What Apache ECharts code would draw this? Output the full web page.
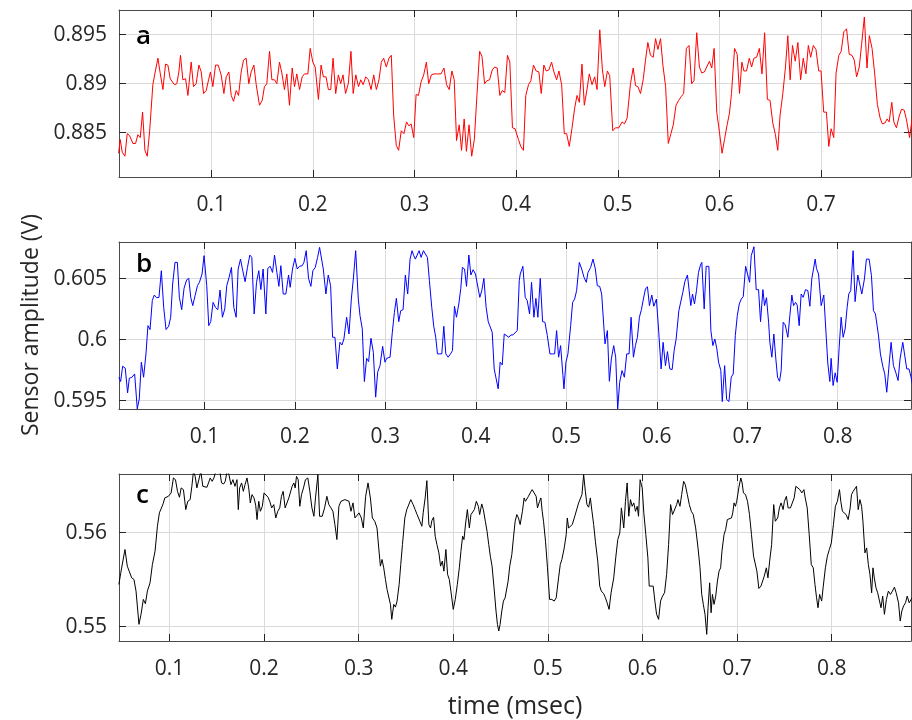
<!DOCTYPE html>
<html>
<head>
<meta charset="utf-8">
<title>Sensor amplitude</title>
<script src="https://cdn.jsdelivr.net/npm/echarts@6/dist/echarts.min.js"></script>
<style>
  html, body { margin: 0; padding: 0; background: #fff; }
  #chart { width: 912px; height: 720px; }
</style>
</head>
<body>
<div id="chart"></div>
<script>
// [time (msec), amplitude (V)]
const sensorA = [
  [0.0089,0.8829],[0.0105,0.8843],[0.0125,0.8830],[0.0151,0.8826],[0.0174,0.8849],[0.0197,0.8847],[0.0230,0.8839],[0.0256,0.8839],[0.0279,0.8848],[0.0302,0.8845],
  [0.0325,0.8871],[0.0348,0.8832],[0.0371,0.8826],[0.0394,0.8851],[0.0426,0.8899],[0.0453,0.8914],[0.0476,0.8926],[0.0498,0.8911],[0.0525,0.8894],[0.0551,0.8920],
  [0.0574,0.8919],[0.0597,0.8905],[0.0616,0.8907],[0.0639,0.8899],[0.0662,0.8900],[0.0682,0.8912],[0.0698,0.8929],[0.0721,0.8904],[0.0748,0.8905],[0.0771,0.8888],
  [0.0803,0.8922],[0.0826,0.8897],[0.0852,0.8900],[0.0879,0.8919],[0.0902,0.8912],[0.0925,0.8890],[0.0951,0.8893],[0.0974,0.8904],[0.0993,0.8912],[0.1016,0.8897],
  [0.1043,0.8919],[0.1069,0.8919],[0.1098,0.8909],[0.1125,0.8890],[0.1148,0.8907],[0.1174,0.8912],[0.1197,0.8888],[0.1220,0.8882],[0.1246,0.8893],[0.1269,0.8888],
  [0.1295,0.8912],[0.1318,0.8924],[0.1344,0.8926],[0.1370,0.8900],[0.1393,0.8912],[0.1420,0.8919],[0.1443,0.8899],[0.1475,0.8878],[0.1502,0.8883],[0.1524,0.8897],
  [0.1547,0.8900],[0.1574,0.8933],[0.1597,0.8904],[0.1623,0.8904],[0.1646,0.8900],[0.1672,0.8922],[0.1695,0.8911],[0.1721,0.8894],[0.1744,0.8910],[0.1770,0.8878],
  [0.1797,0.8916],[0.1820,0.8897],[0.1842,0.8910],[0.1869,0.8894],[0.1895,0.8907],[0.1918,0.8910],[0.1951,0.8910],[0.1974,0.8936],[0.2000,0.8922],
  [0.2023,0.8917],[0.2055,0.8884],[0.2081,0.8919],[0.2104,0.8907],[0.2130,0.8907],[0.2153,0.8894],[0.2176,0.8894],[0.2199,0.8926],[0.2225,0.8890],[0.2251,0.8909],
  [0.2274,0.8900],[0.2297,0.8909],[0.2322,0.8890],[0.2349,0.8900],[0.2375,0.8933],[0.2397,0.8890],[0.2423,0.8909],[0.2449,0.8897],[0.2472,0.8904],[0.2495,0.8899],
  [0.2521,0.8907],[0.2547,0.8904],[0.2573,0.8894],[0.2599,0.8909],[0.2625,0.8894],[0.2651,0.8904],[0.2674,0.8922],[0.2697,0.8926],[0.2723,0.8917],[0.2749,0.8926],
  [0.2772,0.8929],[0.2795,0.8868],[0.2821,0.8837],[0.2844,0.8832],[0.2870,0.8852],[0.2896,0.8849],[0.2922,0.8861],[0.2945,0.8857],[0.2967,0.8859],[0.2993,0.8845],
  [0.3016,0.8889],[0.3039,0.8888],[0.3065,0.8902],[0.3091,0.8909],[0.3117,0.8922],[0.3140,0.8900],[0.3166,0.8909],[0.3192,0.8910],[0.3225,0.8910],[0.3261,0.8910],
  [0.3290,0.8916],[0.3316,0.8899],[0.3342,0.8894],[0.3368,0.8913],[0.3391,0.8904],[0.3414,0.8842],[0.3440,0.8858],[0.3463,0.8832],[0.3489,0.8864],[0.3511,0.8831],
  [0.3537,0.8858],[0.3563,0.8826],[0.3589,0.8843],[0.3615,0.8889],[0.3641,0.8933],[0.3664,0.8928],[0.3690,0.8900],[0.3713,0.8903],[0.3739,0.8904],[0.3765,0.8914],
  [0.3788,0.8917],[0.3814,0.8916],[0.3840,0.8888],[0.3863,0.8893],[0.3889,0.8891],[0.3915,0.8929],[0.3938,0.8922],[0.3964,0.8855],[0.3990,0.8854],
  [0.4023,0.8843],[0.4046,0.8836],[0.4072,0.8832],[0.4095,0.8888],[0.4122,0.8899],[0.4145,0.8903],[0.4171,0.8919],[0.4197,0.8913],[0.4224,0.8912],[0.4247,0.8890],
  [0.4273,0.8919],[0.4296,0.8913],[0.4322,0.8914],[0.4349,0.8922],[0.4372,0.8912],[0.4398,0.8904],[0.4421,0.8913],[0.4448,0.8899],[0.4474,0.8849],[0.4497,0.8849],
  [0.4523,0.8836],[0.4549,0.8854],[0.4576,0.8875],[0.4599,0.8888],[0.4622,0.8881],[0.4648,0.8920],[0.4671,0.8878],[0.4697,0.8894],[0.4720,0.8910],[0.4747,0.8899],
  [0.4773,0.8907],[0.4796,0.8894],[0.4823,0.8955],[0.4849,0.8914],[0.4872,0.8897],[0.4898,0.8913],[0.4921,0.8908],[0.4951,0.8852],[0.4977,0.8855],[0.5010,0.8855],
  [0.5043,0.8861],[0.5066,0.8859],[0.5092,0.8865],[0.5125,0.8900],[0.5152,0.8916],[0.5175,0.8898],[0.5198,0.8897],[0.5224,0.8890],[0.5250,0.8904],[0.5273,0.8924],
  [0.5296,0.8942],[0.5322,0.8929],[0.5349,0.8927],[0.5372,0.8946],[0.5395,0.8935],[0.5421,0.8946],[0.5444,0.8919],[0.5471,0.8897],[0.5497,0.8839],[0.5523,0.8849],
  [0.5546,0.8858],[0.5573,0.8878],[0.5599,0.8883],[0.5625,0.8887],[0.5648,0.8890],[0.5675,0.8936],[0.5701,0.8939],[0.5727,0.8900],[0.5750,0.8903],[0.5777,0.8952],
  [0.5803,0.8917],[0.5826,0.8911],[0.5852,0.8912],[0.5875,0.8917],[0.5902,0.8923],[0.5925,0.8916],[0.5948,0.8936],[0.5974,0.8871],
  [0.6000,0.8851],[0.6026,0.8829],[0.6050,0.8843],[0.6076,0.8858],[0.6099,0.8870],[0.6119,0.8890],[0.6149,0.8936],[0.6175,0.8930],[0.6198,0.8890],[0.6221,0.8922],
  [0.6241,0.8913],[0.6267,0.8913],[0.6294,0.8926],[0.6317,0.8917],[0.6340,0.8926],[0.6366,0.8927],[0.6393,0.8936],[0.6419,0.8910],[0.6445,0.8952],[0.6472,0.8884],
  [0.6498,0.8883],[0.6525,0.8860],[0.6551,0.8848],[0.6574,0.8832],[0.6597,0.8868],[0.6624,0.8890],[0.6650,0.8917],[0.6673,0.8949],[0.6696,0.8904],[0.6719,0.8939],
  [0.6746,0.8923],[0.6772,0.8942],[0.6799,0.8904],[0.6825,0.8926],[0.6851,0.8910],[0.6875,0.8939],[0.6898,0.8927],[0.6924,0.8939],[0.6950,0.8935],[0.6977,0.8913],
  [0.7000,0.8913],[0.7026,0.8871],[0.7053,0.8871],[0.7076,0.8836],[0.7099,0.8854],[0.7125,0.8845],[0.7148,0.8911],[0.7175,0.8929],[0.7198,0.8933],[0.7224,0.8953],
  [0.7251,0.8956],[0.7277,0.8930],[0.7304,0.8929],[0.7327,0.8924],[0.7350,0.8907],[0.7376,0.8917],[0.7399,0.8940],[0.7426,0.8968],[0.7452,0.8916],[0.7475,0.8949],
  [0.7502,0.8936],[0.7528,0.8910],[0.7554,0.8879],[0.7581,0.8865],[0.7603,0.8859],[0.7630,0.8860],[0.7650,0.8864],[0.7670,0.8861],[0.7696,0.8881],[0.7716,0.8861],
  [0.7742,0.8855],[0.7769,0.8867],[0.7792,0.8874],[0.7818,0.8873],[0.7841,0.8863],[0.7871,0.8845],[0.7898,0.8866]
]

const sensorB = [
  [0.0055,0.59692],[0.0074,0.59657],[0.0096,0.59782],[0.0125,0.59766],[0.0151,0.59564],[0.0170,0.59684],[0.0199,0.59692],[0.0229,0.59719],[0.0258,0.59433],[0.0280,0.59515],
  [0.0303,0.59815],[0.0328,0.59692],[0.0354,0.59883],[0.0376,0.60114],[0.0399,0.60082],[0.0424,0.60319],[0.0446,0.60365],[0.0472,0.60343],[0.0498,0.60346],[0.0524,0.60564],
  [0.0550,0.60264],[0.0576,0.60082],[0.0605,0.60109],[0.0627,0.60183],[0.0649,0.60455],[0.0675,0.60632],[0.0701,0.60632],[0.0723,0.60346],[0.0749,0.60245],[0.0775,0.60420],
  [0.0804,0.60490],[0.0827,0.60501],[0.0849,0.60346],[0.0871,0.60278],[0.0897,0.60360],[0.0923,0.60441],[0.0945,0.60469],[0.0974,0.60537],[0.0996,0.60687],[0.1026,0.60441],
  [0.1048,0.60114],[0.1070,0.60147],[0.1096,0.60305],[0.1122,0.60264],[0.1148,0.60245],[0.1173,0.60406],[0.1199,0.60183],[0.1225,0.60251],[0.1247,0.60441],[0.1273,0.60510],
  [0.1299,0.60591],[0.1325,0.60264],[0.1351,0.60183],[0.1373,0.60578],[0.1399,0.60659],[0.1424,0.60564],[0.1450,0.60474],[0.1476,0.60591],[0.1502,0.60692],[0.1524,0.60673],
  [0.1550,0.60210],[0.1576,0.60469],[0.1601,0.60564],[0.1624,0.60409],[0.1649,0.60578],[0.1679,0.60210],[0.1701,0.60583],[0.1727,0.60600],[0.1753,0.60550],[0.1775,0.60692],
  [0.1801,0.60550],[0.1823,0.60436],[0.1845,0.60605],[0.1871,0.60373],[0.1900,0.60373],[0.1930,0.60529],[0.1948,0.60428],[0.1974,0.60578],[0.2000,0.60665],[0.2026,0.60578],
  [0.2052,0.60600],[0.2081,0.60605],[0.2100,0.60632],[0.2125,0.60728],[0.2151,0.60501],[0.2177,0.60436],[0.2199,0.60564],[0.2225,0.60591],[0.2251,0.60673],[0.2273,0.60755],
  [0.2295,0.60755],[0.2314,0.60578],[0.2343,0.60373],[0.2369,0.60529],[0.2395,0.60441],[0.2417,0.60019],[0.2443,0.60019],[0.2469,0.59760],[0.2498,0.59978],[0.2520,0.59956],
  [0.2542,0.60005],[0.2572,0.60183],[0.2598,0.60046],[0.2624,0.60332],[0.2646,0.60496],[0.2672,0.60728],[0.2701,0.60332],[0.2720,0.60196],[0.2745,0.60087],[0.2768,0.59657],
  [0.2793,0.59847],[0.2815,0.59820],[0.2841,0.60011],[0.2867,0.59896],[0.2893,0.59529],[0.2915,0.59733],[0.2941,0.59787],[0.2970,0.59945],[0.2996,0.59815],[0.3015,0.59847],
  [0.3052,0.59856],[0.3077,0.60060],[0.3100,0.60223],[0.3122,0.60338],[0.3148,0.60147],[0.3170,0.60237],[0.3196,0.60245],[0.3221,0.60529],[0.3247,0.60373],[0.3273,0.60659],
  [0.3295,0.60728],[0.3314,0.60687],[0.3332,0.60659],[0.3351,0.60659],[0.3373,0.60728],[0.3395,0.60673],[0.3421,0.60728],[0.3443,0.60728],[0.3465,0.60673],[0.3487,0.60482],
  [0.3513,0.60264],[0.3535,0.60109],[0.3557,0.60019],[0.3576,0.59883],[0.3601,0.59883],[0.3624,0.59883],[0.3646,0.60109],[0.3668,0.59883],[0.3694,0.59856],[0.3720,0.59883],
  [0.3742,0.59910],[0.3764,0.60273],[0.3786,0.60183],[0.3812,0.60292],[0.3834,0.60420],[0.3852,0.60591],[0.3875,0.60578],[0.3897,0.60436],[0.3923,0.60692],[0.3945,0.60529],
  [0.3970,0.60572],[0.3996,0.60537],[0.4018,0.60529],[0.4044,0.60346],[0.4066,0.60401],[0.4089,0.60501],[0.4114,0.60264],[0.4137,0.60147],[0.4159,0.60142],[0.4181,0.60060],
  [0.4203,0.59760],[0.4225,0.59747],[0.4247,0.59597],[0.4269,0.59815],[0.4292,0.59793],[0.4314,0.60046],[0.4336,0.60046],[0.4365,0.60019],[0.4387,0.60038],[0.4410,0.60038],
  [0.4432,0.60046],[0.4458,0.60074],[0.4480,0.60482],[0.4491,0.60537],
  [0.4520,0.60600],[0.4546,0.60346],[0.4568,0.60319],[0.4594,0.60210],[0.4616,0.60469],[0.4642,0.60183],[0.4664,0.60338],[0.4686,0.60183],[0.4712,0.60501],[0.4738,0.60147],
  [0.4764,0.60142],[0.4790,0.60033],[0.4819,0.59883],[0.4845,0.59883],[0.4871,0.59883],[0.4893,0.60074],[0.4915,0.59856],[0.4937,0.59951],[0.4963,0.59706],[0.4974,0.59597],
  [0.4996,0.59815],[0.5018,0.59883],[0.5048,0.60114],[0.5070,0.60305],[0.5092,0.60332],[0.5114,0.60401],[0.5144,0.60632],[0.5170,0.60578],[0.5196,0.60510],[0.5221,0.60469],
  [0.5240,0.60550],[0.5269,0.60591],[0.5295,0.60659],[0.5321,0.60578],[0.5343,0.60441],[0.5369,0.60436],[0.5391,0.60373],[0.5413,0.60128],[0.5428,0.59965],[0.5454,0.60074],
  [0.5476,0.59659],[0.5498,0.59842],[0.5524,0.59951],[0.5546,0.59856],[0.5568,0.59433],[0.5590,0.59651],[0.5616,0.59747],[0.5642,0.59692],[0.5668,0.59883],[0.5694,0.59883],
  [0.5716,0.60183],[0.5742,0.59856],[0.5764,0.59951],[0.5786,0.60019],[0.5808,0.60183],[0.5830,0.60245],[0.5852,0.60332],[0.5875,0.60414],[0.5897,0.60433],[0.5919,0.60278],
  [0.5945,0.60365],[0.5967,0.60273],[0.5996,0.60332],[0.6022,0.60060],[0.6048,0.59760],[0.6070,0.59978],[0.6096,0.59787],[0.6118,0.59902],[0.6144,0.59760],[0.6170,0.59755],
  [0.6192,0.59910],[0.6214,0.60005],[0.6244,0.60237],[0.6266,0.60237],[0.6288,0.60387],[0.6310,0.60474],[0.6339,0.60529],[0.6376,0.60278],[0.6395,0.60373],[0.6417,0.60292],
  [0.6439,0.60401],[0.6461,0.60550],[0.6483,0.60610],[0.6498,0.60632],[0.6524,0.60251],[0.6546,0.60600],[0.6576,0.60600],[0.6598,0.60074],[0.6620,0.59951],[0.6642,0.60005],
  [0.6664,0.59924],[0.6683,0.59815],[0.6708,0.59747],
  [0.6724,0.59493],[0.6750,0.59787],[0.6772,0.59510],[0.6798,0.59493],[0.6823,0.59692],[0.6845,0.59719],[0.6868,0.60033],[0.6890,0.60196],[0.6912,0.60292],[0.6934,0.60332],
  [0.6956,0.60352],[0.6982,0.60600],[0.7000,0.60600],[0.7026,0.60469],[0.7044,0.60687],[0.7074,0.60760],[0.7099,0.60409],[0.7125,0.60409],[0.7147,0.60147],[0.7173,0.60409],
  [0.7191,0.60278],[0.7213,0.60343],[0.7236,0.60142],[0.7250,0.59978],[0.7272,0.59856],[0.7294,0.60046],[0.7316,0.59842],[0.7335,0.59692],[0.7357,0.59659],[0.7375,0.59747],
  [0.7397,0.60142],[0.7420,0.60120],[0.7449,0.60019],[0.7471,0.60196],[0.7493,0.60365],[0.7512,0.60278],[0.7534,0.60305],[0.7552,0.60283],[0.7574,0.60114],[0.7596,0.60373],
  [0.7618,0.60346],[0.7644,0.60409],[0.7670,0.60401],[0.7692,0.60273],[0.7714,0.60501],[0.7732,0.60578],[0.7751,0.60659],[0.7765,0.60583],[0.7788,0.60537],[0.7817,0.60278],
  [0.7846,0.60365],[0.7868,0.60087],[0.7891,0.59801],[0.7913,0.59657],[0.7927,0.59847],[0.7949,0.59624],[0.7972,0.59728],[0.7994,0.59651],[0.8016,0.59937],[0.8038,0.60183],
  [0.8060,0.60019],[0.8082,0.60087],[0.8104,0.60264],[0.8122,0.60373],[0.8144,0.60401],[0.8170,0.60728],[0.8192,0.60311],[0.8222,0.60529],[0.8244,0.60523],[0.8266,0.60373],
  [0.8295,0.60496],[0.8317,0.60659],[0.8347,0.60659],[0.8373,0.60523],[0.8395,0.60237],[0.8417,0.60210],[0.8450,0.60038],[0.8472,0.59883],[0.8498,0.59782],[0.8520,0.59719],
  [0.8542,0.59569],[0.8564,0.59760],[0.8590,0.59978],[0.8616,0.59787],[0.8641,0.59733],[0.8667,0.59665],[0.8689,0.59842],[0.8719,0.59978],[0.8737,0.59965],[0.8763,0.59760],
  [0.8788,0.59760],[0.8811,0.59692],[0.8833,0.59610]
]

const sensorC = [
  [0.0466,0.55449],[0.0484,0.55562],[0.0505,0.55583],[0.0530,0.55820],[0.0555,0.55643],[0.0576,0.55654],[0.0601,0.55519],[0.0625,0.55502],[0.0647,0.55378],[0.0678,0.55025],
  [0.0700,0.55131],[0.0724,0.55290],[0.0746,0.55244],[0.0767,0.55378],[0.0795,0.55466],[0.0820,0.55661],[0.0848,0.55802],[0.0873,0.56067],[0.0894,0.56209],[0.0915,0.56226],
  [0.0933,0.56304],[0.0951,0.56368],[0.0972,0.56368],[0.0989,0.56385],[0.1018,0.56421],[0.1042,0.56580],[0.1064,0.56562],[0.1085,0.56438],[0.1106,0.56375],[0.1124,0.56474],
  [0.1148,0.56456],[0.1173,0.56244],[0.1194,0.56332],[0.1219,0.56350],[0.1237,0.56491],[0.1254,0.56650],[0.1272,0.56597],[0.1290,0.56474],[0.1311,0.56474],[0.1332,0.56650],
  [0.1353,0.56491],[0.1371,0.56474],[0.1396,0.56481],[0.1413,0.56527],[0.1431,0.56580],[0.1452,0.56544],[0.1470,0.56580],[0.1491,0.56650],[0.1512,0.56650],[0.1530,0.56670],
  [0.1551,0.56527],[0.1573,0.56516],[0.1590,0.56544],[0.1611,0.56660],[0.1629,0.56615],[0.1650,0.56509],[0.1671,0.56562],[0.1693,0.56491],[0.1714,0.56562],[0.1728,0.56244],
  [0.1742,0.56474],[0.1763,0.56527],[0.1781,0.56438],[0.1799,0.56509],[0.1820,0.56580],[0.1838,0.56474],[0.1855,0.56315],[0.1873,0.56403],[0.1894,0.56368],[0.1912,0.56290],
  [0.1926,0.56138],[0.1944,0.56332],[0.1961,0.56226],[0.1982,0.56279],[0.2000,0.56421],[0.2021,0.56403],[0.2043,0.56375],[0.2060,0.56332],[0.2081,0.56262],[0.2103,0.56297],
  [0.2124,0.56155],[0.2145,0.56226],[0.2166,0.56262],[0.2184,0.56385],[0.2202,0.56438],[0.2223,0.56262],[0.2240,0.56262],[0.2262,0.56368],[0.2279,0.56350],[0.2297,0.56491],
  [0.2315,0.56527],[0.2329,0.56474],[0.2343,0.56597],[0.2361,0.56562],[0.2378,0.56279],[0.2396,0.56403],[0.2417,0.56474],[0.2438,0.56562],[0.2463,0.56580],[0.2484,0.56438],
  [0.2506,0.56262],[0.2527,0.56173],
  [0.2544,0.56368],[0.2569,0.56615],[0.2587,0.56173],[0.2615,0.56173],[0.2640,0.56262],[0.2664,0.56385],[0.2685,0.56297],[0.2707,0.56262],[0.2728,0.56226],[0.2749,0.56085],
  [0.2770,0.55926],[0.2791,0.56279],[0.2813,0.56332],[0.2834,0.56315],[0.2855,0.56350],[0.2876,0.56350],[0.2898,0.56332],[0.2919,0.56226],[0.2940,0.56315],[0.2961,0.56155],
  [0.2982,0.56173],[0.3004,0.56209],[0.3028,0.56155],[0.3049,0.56049],[0.3074,0.56385],[0.3099,0.56527],[0.3124,0.56368],[0.3145,0.56155],[0.3170,0.56120],[0.3194,0.56049],
  [0.3212,0.55837],[0.3230,0.55643],[0.3247,0.55714],[0.3265,0.55625],[0.3283,0.55502],[0.3300,0.55396],[0.3318,0.55385],[0.3336,0.55237],[0.3350,0.55078],[0.3371,0.55237],
  [0.3389,0.55208],[0.3406,0.55272],[0.3428,0.55449],[0.3445,0.55661],[0.3463,0.55873],[0.3488,0.56155],[0.3509,0.56244],[0.3530,0.56262],[0.3551,0.56350],[0.3576,0.56297],
  [0.3597,0.56244],[0.3618,0.56191],[0.3647,0.56120],[0.3668,0.56067],[0.3682,0.56209],[0.3703,0.56368],[0.3721,0.56551],[0.3742,0.56085],[0.3760,0.56049],[0.3774,0.56127],
  [0.3792,0.56163],[0.3809,0.55961],[0.3827,0.55873],[0.3848,0.55784],[0.3866,0.55643],[0.3884,0.55696],[0.3901,0.55590],[0.3922,0.55820],[0.3940,0.55555],[0.3958,0.55502],
  [0.3975,0.55378],[0.4000,0.55184],[0.4021,0.55290],[0.4043,0.55449],[0.4064,0.55625],[0.4081,0.55802],[0.4099,0.55961],[0.4113,0.55926],[0.4131,0.56102],[0.4149,0.56244],
  [0.4170,0.56049],[0.4187,0.56191],[0.4205,0.56191],[0.4223,0.56244],[0.4244,0.56332],[0.4265,0.56279],[0.4279,0.56191],[0.4301,0.56304],[0.4318,0.56244],[0.4339,0.56120],
  [0.4357,0.56014],[0.4375,0.55873],[0.4392,0.55749],[0.4410,0.55643],[0.4431,0.55413],[0.4452,0.55166],[0.4467,0.55025],[0.4481,0.54954],[0.4495,0.55025],[0.4513,0.55166],
  [0.4530,0.55272],[0.4548,0.55307],[0.4566,0.55307],[0.4580,0.55484],[0.4597,0.55643],[0.4619,0.55767],[0.4636,0.55943],[0.4654,0.56120],[0.4672,0.56191],[0.4689,0.56155],
  [0.4707,0.56085],
  [0.4731,0.56226],[0.4749,0.56368],[0.4763,0.56332],[0.4777,0.56315],[0.4795,0.56385],[0.4813,0.56421],[0.4834,0.56456],[0.4855,0.56438],[0.4876,0.56385],[0.4890,0.56262],
  [0.4912,0.56332],[0.4926,0.56368],[0.4940,0.56226],[0.4954,0.56120],[0.4975,0.55908],[0.4996,0.55625],[0.5018,0.55290],[0.5042,0.55290],[0.5067,0.55272],[0.5088,0.55307],
  [0.5113,0.55519],[0.5131,0.55661],[0.5148,0.55714],[0.5173,0.55837],[0.5194,0.55979],[0.5205,0.56155],[0.5219,0.56049],[0.5240,0.56032],[0.5258,0.56085],[0.5279,0.56155],
  [0.5297,0.56138],[0.5325,0.56315],[0.5343,0.56332],[0.5360,0.56403],[0.5378,0.56615],[0.5396,0.56438],[0.5413,0.56297],[0.5431,0.56269],[0.5449,0.56368],[0.5466,0.56226],
  [0.5484,0.56085],[0.5502,0.55908],[0.5527,0.55696],[0.5548,0.55431],[0.5565,0.55378],[0.5590,0.55350],[0.5608,0.55307],[0.5626,0.55254],[0.5647,0.55184],[0.5668,0.55360],
  [0.5696,0.55519],[0.5717,0.55731],[0.5739,0.55926],[0.5760,0.55996],[0.5777,0.56262],[0.5802,0.56049],[0.5820,0.56332],[0.5838,0.56527],[0.5855,0.56173],[0.5873,0.56350],
  [0.5891,0.56279],[0.5908,0.56315],[0.5926,0.56226],[0.5944,0.56279],[0.5958,0.56173],[0.5975,0.56562],[0.5997,0.56474],[0.6014,0.56209],[0.6035,0.55979],[0.6057,0.55731],
  [0.6071,0.55431],[0.6092,0.55449],[0.6113,0.55431],[0.6131,0.55272],[0.6149,0.55131],[0.6170,0.55078],[0.6191,0.55272],[0.6212,0.55325],[0.6233,0.55360],[0.6255,0.55555],
  [0.6276,0.55873],[0.6297,0.56297],[0.6318,0.56191],[0.6339,0.56209],[0.6361,0.56297],[0.6375,0.56350],[0.6396,0.56279],[0.6414,0.56403],[0.6435,0.56544],[0.6452,0.56509],
  [0.6474,0.56403],[0.6495,0.56297],[0.6516,0.56226],[0.6537,0.56191],[0.6562,0.56049],[0.6587,0.55837],[0.6608,0.55625],[0.6626,0.55343],[0.6643,0.55237],[0.6661,0.55131],
  [0.6679,0.54919],[0.6693,0.55201],[0.6710,0.55466],[0.6725,0.55148],[0.6739,0.55343],[0.6756,0.55237],[0.6774,0.55325],[0.6792,0.55484],[0.6809,0.55590],
  [0.6826,0.55625],[0.6840,0.55802],[0.6862,0.55979],[0.6879,0.56032],[0.6897,0.56138],[0.6918,0.56138],[0.6940,0.56155],[0.6954,0.56209],[0.6968,0.56315],[0.6982,0.56279],
  [0.6996,0.56332],[0.7018,0.56474],[0.7039,0.56580],[0.7053,0.56527],[0.7067,0.56421],[0.7089,0.56403],[0.7110,0.56332],[0.7131,0.56191],[0.7152,0.55979],[0.7174,0.55749],
  [0.7195,0.55749],[0.7209,0.55590],[0.7230,0.55406],[0.7252,0.55431],[0.7273,0.55431],[0.7287,0.55537],[0.7309,0.55625],[0.7326,0.55519],[0.7344,0.55696],[0.7365,0.55873],
  [0.7387,0.56297],[0.7404,0.56120],[0.7429,0.56155],[0.7447,0.56262],[0.7465,0.56315],[0.7486,0.56244],[0.7500,0.56332],[0.7521,0.56385],[0.7539,0.56262],[0.7564,0.56262],
  [0.7582,0.56262],[0.7603,0.56368],[0.7621,0.56491],[0.7642,0.56491],[0.7663,0.56456],[0.7684,0.56421],[0.7706,0.56456],[0.7720,0.56368],[0.7741,0.56262],[0.7762,0.55979],
  [0.7784,0.55661],[0.7805,0.55625],[0.7823,0.55449],[0.7840,0.55307],[0.7855,0.55201],[0.7872,0.55343],[0.7894,0.55272],[0.7911,0.55431],[0.7933,0.55625],[0.7954,0.55749],
  [0.7975,0.55820],[0.7996,0.55890],[0.8018,0.56085],[0.8039,0.56279],[0.8060,0.56332],[0.8082,0.56456],[0.8096,0.56332],[0.8113,0.56226],[0.8131,0.56209],[0.8152,0.56191],
  [0.8174,0.56138],[0.8195,0.56262],[0.8209,0.56403],[0.8227,0.56438],[0.8245,0.56456],[0.8262,0.56491],[0.8280,0.56244],[0.8298,0.56350],[0.8316,0.56279],[0.8330,0.56120],
  [0.8351,0.55784],[0.8369,0.55837],[0.8387,0.55661],[0.8404,0.55555],[0.8422,0.55360],[0.8436,0.55625],[0.8450,0.55519],[0.8468,0.55413],[0.8486,0.55360],[0.8503,0.55360],
  [0.8521,0.55201],[0.8539,0.55325],[0.8557,0.55131],[0.8578,0.55290],[0.8599,0.55378],[0.8621,0.55343],[0.8642,0.55378],[0.8663,0.55420],[0.8681,0.55360],[0.8706,0.55254],
  [0.8724,0.55060],[0.8741,0.55166],[0.8759,0.55219],[0.8780,0.55254],[0.8798,0.55325],[0.8819,0.55254],[0.8840,0.55290],[0.8862,0.55325]
]

// axis extents and tick values
const xRangeA = [0.0093, 0.7885]
const xRangeB = [0.0056, 0.881]
const xRangeC = [0.0467, 0.8838]
const yRangeA = [0.88048, 0.89752]
const yRangeB = [0.59432, 0.60799]
const yRangeC = [0.54848, 0.56622]
const xTicksA = [0.1, 0.2, 0.3, 0.4, 0.5, 0.6, 0.7]
const xTicksB = [0.1, 0.2, 0.3, 0.4, 0.5, 0.6, 0.7, 0.8]
const xTicksC = [0.1, 0.2, 0.3, 0.4, 0.5, 0.6, 0.7, 0.8]
const yTicksA = [0.885, 0.89, 0.895]
const yTicksB = [0.595, 0.6, 0.605]
const yTicksC = [0.55, 0.56]
const panelLetters = ['a', 'b', 'c']

const font = 'Open Sans'
const textColor = '#262626'
const boxColor = '#4a4a4a'
const gridColor = '#dadada'

function makeAxis (gridIndex, range, ticks, position, main) {
  return {
    type: 'value',
    gridIndex: gridIndex,
    position: position,
    min: range[0],
    max: range[1],
    axisLine: { show: true, onZero: false, lineStyle: { color: boxColor, width: 1 } },
    axisTick: { show: true, inside: true, length: 7, customValues: ticks, lineStyle: { color: textColor, width: 1 } },
    axisLabel: {
      show: main,
      customValues: ticks,
      color: textColor,
      fontFamily: font,
      fontSize: 21,
      margin: (position === 'left') ? 12 : 18,
      formatter: function (v) { return String(v) }
    },
    splitLine: { show: main, lineStyle: { color: gridColor, width: 1 } }
  }
}

const chart = echarts.init(document.getElementById('chart'), null, { renderer: 'canvas' })

const grids = [
  { left: 119, right: 1, top: 10, height: 167 },
  { left: 119, right: 1, top: 242, height: 167 },
  { left: 119, right: 1, top: 474, height: 167 }
]

const xAxes = [
  makeAxis(0, xRangeA, xTicksA, 'bottom', true),
  makeAxis(0, xRangeA, xTicksA, 'top', false),
  makeAxis(1, xRangeB, xTicksB, 'bottom', true),
  makeAxis(1, xRangeB, xTicksB, 'top', false),
  makeAxis(2, xRangeC, xTicksC, 'bottom', true),
  makeAxis(2, xRangeC, xTicksC, 'top', false)
]
xAxes[4].name = 'time (msec)'
xAxes[4].nameLocation = 'middle'
xAxes[4].nameGap = 53
xAxes[4].nameTextStyle = { color: textColor, fontFamily: font, fontSize: 25 }

const yAxes = [
  makeAxis(0, yRangeA, yTicksA, 'left', true),
  makeAxis(0, yRangeA, yTicksA, 'right', false),
  makeAxis(1, yRangeB, yTicksB, 'left', true),
  makeAxis(1, yRangeB, yTicksB, 'right', false),
  makeAxis(2, yRangeC, yTicksC, 'left', true),
  makeAxis(2, yRangeC, yTicksC, 'right', false)
]

function lineSeries (idx, data, color) {
  return {
    type: 'line',
    xAxisIndex: idx,
    yAxisIndex: idx,
    data: data,
    showSymbol: false,
    symbol: 'none',
    clip: true,
    lineStyle: { color: color, width: 1 },
    itemStyle: { color: color }
  }
}

chart.setOption({
  animation: false,
  backgroundColor: '#ffffff',
  grid: grids,
  xAxis: xAxes,
  yAxis: yAxes,
  series: [
    lineSeries(0, sensorA, '#ff0000'),
    lineSeries(2, sensorB, '#0000ff'),
    lineSeries(4, sensorC, '#000000')
  ],
  graphic: [
    { type: 'text', left: 136, top: 24, style: { text: panelLetters[0], fill: '#000', font: '600 26px "Open Sans"' } },
    { type: 'text', left: 136, top: 252, style: { text: panelLetters[1], fill: '#000', font: '600 26px "Open Sans"' } },
    { type: 'text', left: 136, top: 483, style: { text: panelLetters[2], fill: '#000', font: '600 26px "Open Sans"' } },
    {
      type: 'text',
      x: 31,
      y: 325,
      rotation: Math.PI / 2,
      style: { text: 'Sensor amplitude (V)', fill: textColor, font: '23px "Open Sans"', textAlign: 'center', textVerticalAlign: 'middle' }
    }
  ]
})
</script>
</body>
</html>
